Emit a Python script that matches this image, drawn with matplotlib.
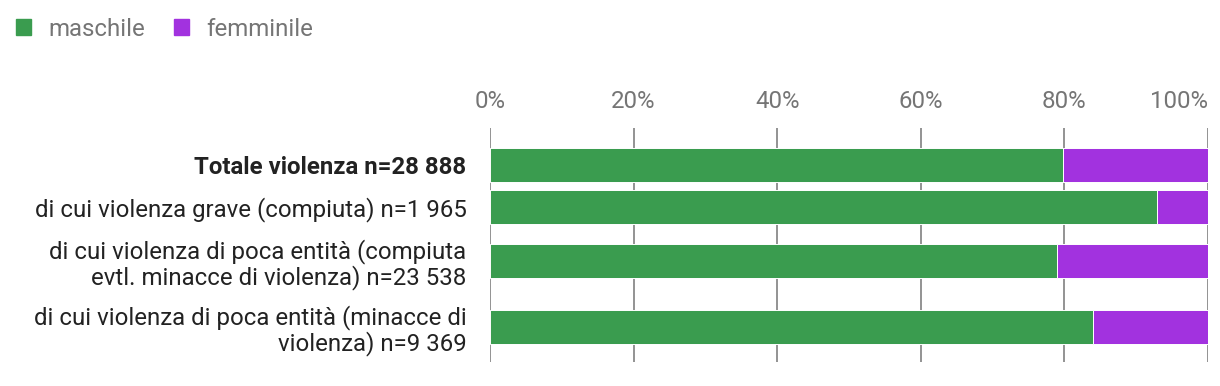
import matplotlib.pyplot as plt
from matplotlib.patches import Patch

plt.rcParams['font.family'] = ['Roboto', 'DejaVu Sans']

# dati: quota in % per genere
categories = [
    'Totale violenza n=28 888',
    'di cui violenza grave (compiuta) n=1 965',
    'di cui violenza di poca entità (compiuta\nevtl. minacce di violenza) n=23 538',
    'di cui violenza di poca entità (minacce di\nviolenza) n=9 369',
]
maschile = [79.8, 92.9, 79.0, 84.0]
femminile = [20.2, 7.1, 21.0, 16.0]
xticks = [0, 20, 40, 60, 80, 100]
xtick_labels = ['0%', '20%', '40%', '60%', '80%', '100%']

# layout (pixel)
W, H = 1220, 386
row_centers = [165, 207, 261, 327]
bar_h = 34
green = '#3A9C4F'
purple = '#A232DF'
grey = '#757575'
fs = 17.3

fig = plt.figure(figsize=(W / 100, H / 100), dpi=100)
ax = fig.add_axes([490 / W, 1 - 362 / H, (1208 - 490) / W, (362 - 128) / H])

ax.barh(row_centers, maschile, height=bar_h, color=green,
        edgecolor='white', linewidth=0.7, zorder=3)
ax.barh(row_centers, femminile, left=maschile, height=bar_h, color=purple,
        edgecolor='white', linewidth=0.7, zorder=3)

ax.set_xlim(0, 100)
ax.set_ylim(362, 128)
ax.xaxis.tick_top()
ax.set_xticks(xticks)
ax.set_xticklabels(xtick_labels, fontsize=fs, color=grey)
ax.tick_params(axis='x', length=0, pad=11)
ax.xaxis.get_major_ticks()[-1].label2.set_horizontalalignment('right')
ax.set_yticks(row_centers)
ax.set_yticklabels(categories, fontsize=fs, color='#222222', linespacing=1.08)
ax.get_yticklabels()[0].set_fontweight('bold')
ax.tick_params(axis='y', length=0, pad=17)
for lab in ax.get_yticklabels():
    lab.set_horizontalalignment('right')

ax.grid(axis='x', color=grey, linewidth=1.1, zorder=0)
ax.set_axisbelow(True)
for s in ax.spines.values():
    s.set_visible(False)

handles = [Patch(color=green, label='maschile'), Patch(color=purple, label='femminile')]
fig.legend(handles=handles, loc='upper left', bbox_to_anchor=(0.0, 0.995), ncol=2,
           frameon=False, fontsize=fs, labelcolor=grey, handlelength=0.65,
           handleheight=0.65, handletextpad=0.7, columnspacing=1.2,
           borderaxespad=0.25)

fig.savefig('out.png', dpi=100)
